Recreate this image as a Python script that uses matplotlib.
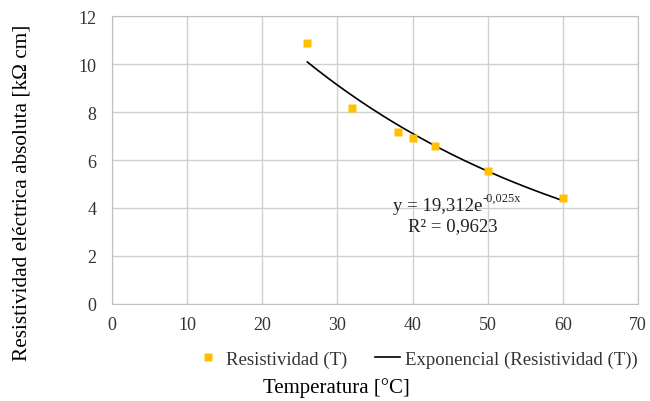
import numpy as np
import matplotlib.pyplot as plt

# data
temperatura = [26, 32, 38, 40, 43, 50, 60]
resistividad = [10.87, 8.15, 7.18, 6.93, 6.58, 5.55, 4.40]

# trendline coefficients shown on the chart
coef_a = 19.312
coef_b = -0.025
ecuacion = 'y = 19,312e'
exponente = '-0,025x'
r2_texto = 'R² = 0,9623'

x_ticks = [0, 10, 20, 30, 40, 50, 60, 70]
y_ticks = [0, 2, 4, 6, 8, 10, 12]

plt.rcParams['font.family'] = ['Liberation Serif', 'DejaVu Serif']

fig = plt.figure(figsize=(6.5, 4.02), dpi=100)
ax = fig.add_axes([0.1723, 0.2413, 0.8092, 0.7164])

xt = np.linspace(min(temperatura), max(temperatura), 200)
yt = coef_a * np.exp(coef_b * xt)

ax.plot(temperatura, resistividad, 's', color='#FFC000', ms=6, mec='none',
        label='Resistividad (T)', zorder=3)
ax.plot(xt, yt, color='black', lw=1.2, label='Exponencial (Resistividad (T))', zorder=2)

ax.set_xlim(0, 70)
ax.set_ylim(0, 12)
ax.set_xticks(x_ticks)
ax.set_yticks(y_ticks)
ax.tick_params(length=0, labelsize=13, colors='#333333')
ax.tick_params(axis='y', pad=11)
ax.tick_params(axis='x', pad=9)
ax.grid(True, color='#D0D0D0', lw=1)
ax.set_axisbelow(True)
for s in ax.spines.values():
    s.set_color('#BFBFBF')

# trendline label
ax.text(49.25, 4.12, ecuacion, ha='right', va='center', fontsize=13.5, color='#222222')
ax.annotate(exponente, (49.25, 4.12), xytext=(0.5, 5), textcoords='offset points',
            ha='left', va='center', fontsize=9, color='#222222')
ax.text(45.4, 3.25, r2_texto, ha='center', va='center', fontsize=13.5, color='#222222')

fig.legend(loc='center', bbox_to_anchor=(0.641, 0.104), ncol=2, frameon=False,
           fontsize=13.5, handlelength=1.35, columnspacing=1.5, handletextpad=0.25,
           markerscale=0.9, labelcolor='#333333')

fig.text(0.517, 0.035, 'Temperatura [°C]', ha='center', va='center', fontsize=15)
fig.text(0.034, 0.52, 'Resistividad eléctrica absoluta [kΩ cm]', ha='center',
         va='center', rotation=90, fontsize=15.3)

fig.savefig('out.png', dpi=100)
